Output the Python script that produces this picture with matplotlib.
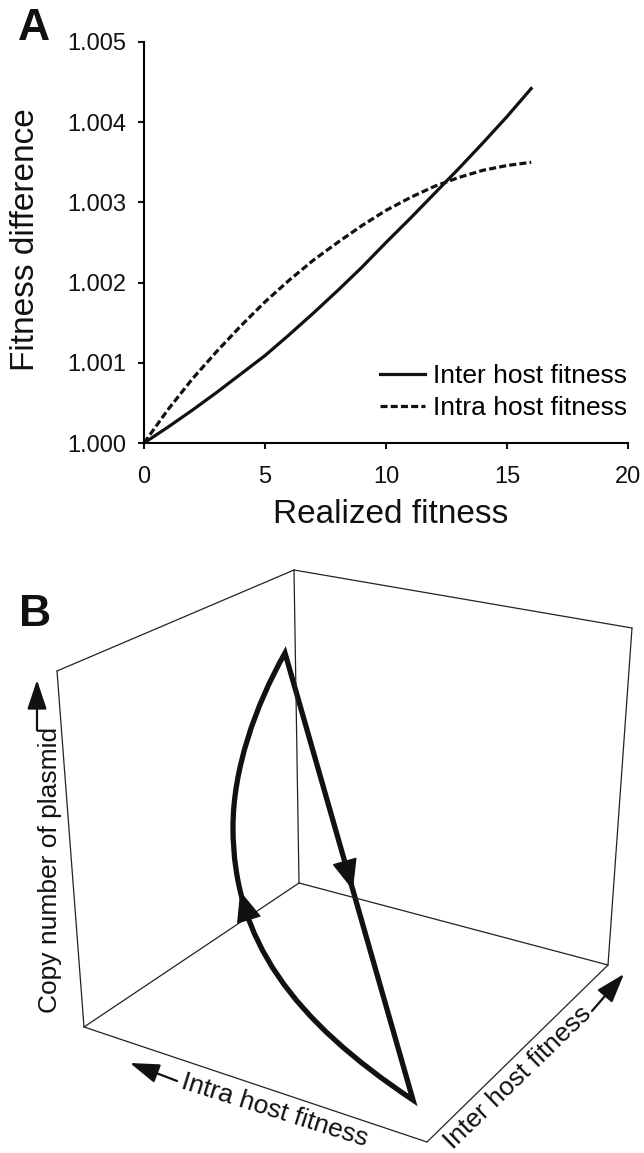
# plot.py
# Panel A: fitness difference vs realized fitness (inter / intra host)
# Panel B: schematic 3D box with plasmid copy-number cycle
# Saves out.png

import matplotlib
matplotlib.use("Agg")
import matplotlib.pyplot as plt
from matplotlib.path import Path
from matplotlib.patches import PathPatch

plt.rcParams["font.family"] = ["Liberation Sans", "DejaVu Sans"]

# ---- panel A data ----
realized = [0, 1, 2, 3, 4, 5, 6, 7, 8, 9, 10, 11, 12, 13, 14, 15, 16]
inter_host = [1.00000, 1.00020, 1.00041, 1.00063, 1.00086, 1.00109, 1.00135,
              1.00162, 1.00190, 1.00219, 1.00250, 1.00280, 1.00311, 1.00342,
              1.00374, 1.00407, 1.00442]
intra_host = [1.00000, 1.00042, 1.00080, 1.00114, 1.00146, 1.00176, 1.00203,
              1.00228, 1.00250, 1.00271, 1.00290, 1.00306, 1.00320, 1.00331,
              1.00340, 1.00346, 1.00350]
x_ticks = [0, 5, 10, 15, 20]
y_ticks = [1.000, 1.001, 1.002, 1.003, 1.004, 1.005]

# ---- panel B schematic (drawing units) ----
box_x = [57, 294, 632, 608, 299, 84, 427]
box_y = [671, 570, 628, 965, 883, 1027, 1142]
box_edges = [(0, 1), (1, 2), (2, 3), (1, 4), (4, 3), (4, 5), (0, 5), (5, 6), (6, 3)]
# cycle: curved leg (two cubic pieces, top -> bottom), then straight leg back up
curve_x = [285, 255, 233, 233, 233, 293, 413]
curve_y = [653, 706, 770, 827, 940, 1020, 1100]

W, H = 644, 1153
fig = plt.figure(figsize=(W / 100, H / 100), dpi=100)

# ---------------- panel A ----------------
ax = fig.add_axes([144 / W, 1 - 443 / H, (628 - 144) / W, (443 - 42) / H])
ax.plot(realized, inter_host, color="#111111", lw=2.3, label="Inter host fitness")
ax.plot(realized, intra_host, color="#111111", lw=2.3, linestyle=(0, (2.2, 1.0)),
        label="Intra host fitness")
ax.set_xlim(0, 20)
ax.set_ylim(1.000, 1.005)
ax.set_xticks(x_ticks)
ax.set_yticks(y_ticks)
ax.set_yticklabels([f"{v:.3f}" for v in y_ticks])
for s in ["top", "right"]:
    ax.spines[s].set_visible(False)
for s in ["left", "bottom"]:
    ax.spines[s].set_linewidth(1.5)
ax.tick_params(axis="both", direction="out", length=4.5, width=1.5,
               labelsize=17, colors="#111111")
ax.tick_params(axis="y", pad=8)
ax.tick_params(axis="x", pad=12)
ax.patch.set_alpha(0)

ax.legend(loc="upper left", bbox_to_anchor=(380 / W, 1 - 364 / H),
          bbox_transform=fig.transFigure, frameon=False, fontsize=19,
          handlelength=1.7, handletextpad=0.3, labelspacing=0.3,
          borderpad=0, borderaxespad=0)

fig.text(391 / W, 1 - 523 / H, "Realized fitness", fontsize=24,
         ha="center", va="baseline", color="#111111")
fig.text(26 / W, 1 - 240 / H, "Fitness difference", fontsize=24, rotation=90,
         ha="center", va="center", color="#111111")
fig.text(34 / W, 1 - 29 / H, "A", fontsize=32, fontweight="bold",
         ha="center", va="center", color="#111111")

# ---------------- panel B ----------------
top = 550
bx = fig.add_axes([0, 0, 1, (H - top) / H])
bx.set_xlim(0, W)
bx.set_ylim(H, top)
bx.axis("off")

for i, j in box_edges:
    bx.plot([box_x[i], box_x[j]], [box_y[i], box_y[j]], color="#222222", lw=0.9,
            solid_capstyle="round")

verts = list(zip(curve_x, curve_y)) + [(curve_x[0], curve_y[0]), (curve_x[0], curve_y[0])]
codes = [Path.MOVETO] + [Path.CURVE4] * 6 + [Path.LINETO, Path.CLOSEPOLY]
bx.add_patch(PathPatch(Path(verts, codes), facecolor="none", edgecolor="#111111",
                       lw=3.8, joinstyle="miter"))


def bez(i, t):
    # point on cubic piece starting at control index i
    c = [(1 - t) ** 3, 3 * (1 - t) ** 2 * t, 3 * (1 - t) * t ** 2, t ** 3]
    x = sum(c[k] * curve_x[i + k] for k in range(4))
    y = sum(c[k] * curve_y[i + k] for k in range(4))
    return x, y


def on_line(y):
    # point on the straight leg (bottom -> top) at height y
    x0, y0, x1, y1 = curve_x[-1], curve_y[-1], curve_x[0], curve_y[0]
    return x0 + (x1 - x0) * (y - y0) / (y1 - y0), y


head = dict(arrowstyle="-|>,head_length=2.0,head_width=0.83", mutation_scale=10,
            color="#111111", lw=1, shrinkA=0, shrinkB=0)
bx.annotate("", xy=on_line(890), xytext=on_line(860), arrowprops=head)
bx.annotate("", xy=bez(3, 0.2), xytext=bez(3, 0.3), arrowprops=head)

small = dict(arrowstyle="-|>,head_length=1.8,head_width=0.6", mutation_scale=10,
             color="#111111", lw=1.6, shrinkA=0, shrinkB=0)
bx.annotate("", xy=(37, 680), xytext=(37, 730), arrowprops=small)
bx.annotate("", xy=(130, 1063), xytext=(177, 1081), arrowprops=small)
bx.annotate("", xy=(624, 974), xytext=(592, 1011), arrowprops=small)

bx.text(50, 870, "Copy number of plasmid", fontsize=19, rotation=90,
        ha="center", va="center", color="#111111")
bx.text(275, 1111, "Intra host fitness", fontsize=19, rotation=-17.5,
        ha="center", va="center", rotation_mode="anchor", color="#111111")
bx.text(518, 1078, "Inter host fitness", fontsize=19, rotation=44,
        ha="center", va="center", rotation_mode="anchor", color="#111111")

fig.text(35 / W, 1 - 615 / H, "B", fontsize=32, fontweight="bold",
         ha="center", va="center", color="#111111")

fig.savefig("out.png", dpi=100)
